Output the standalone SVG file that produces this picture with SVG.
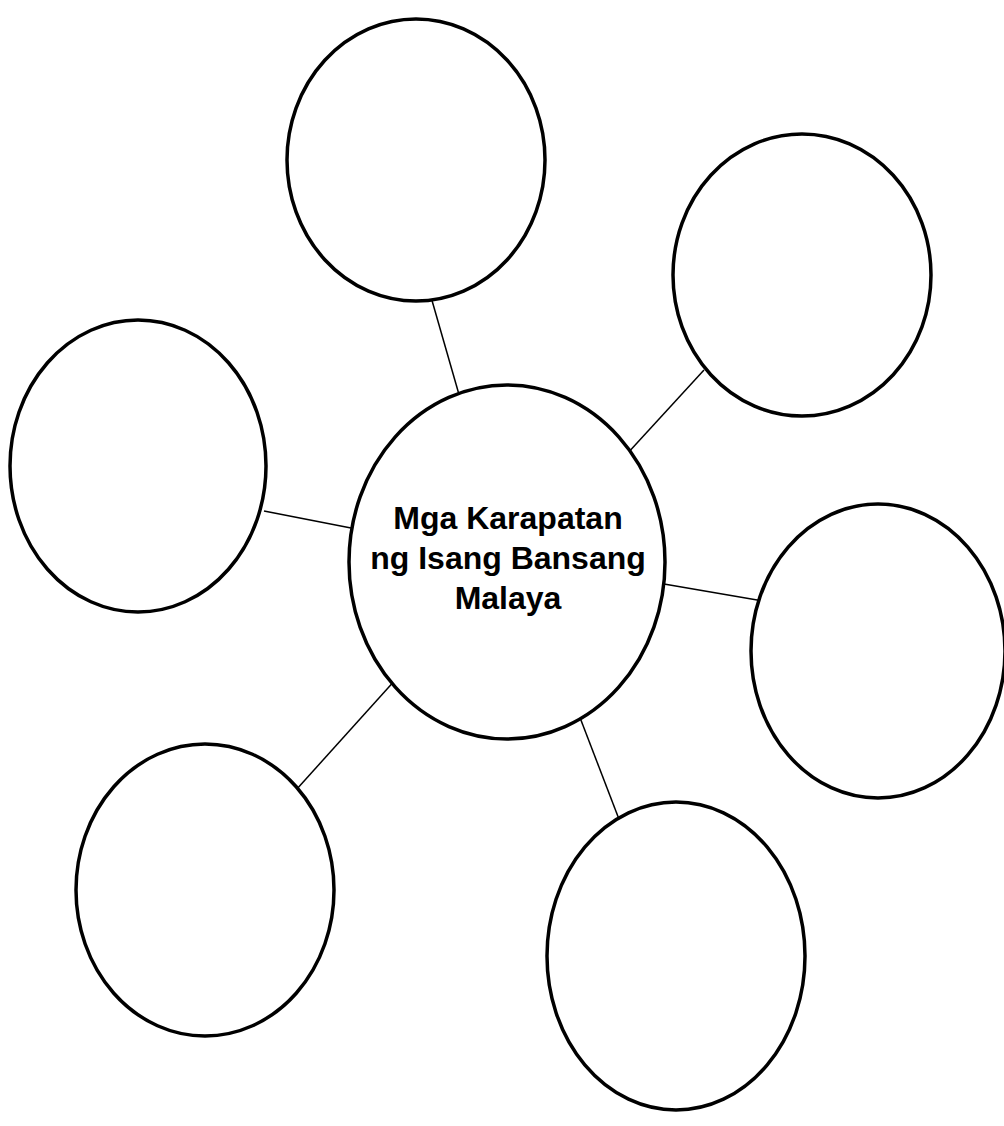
<svg xmlns="http://www.w3.org/2000/svg" width="1004" height="1126" viewBox="0 0 1004 1126">
<style>
.n{fill:#fff;stroke:#000;stroke-width:3.5}
.c line{stroke:#000;stroke-width:1.5}
.t{font-family:"Liberation Sans",Arial,sans-serif;font-weight:bold;font-size:32px;text-anchor:middle;fill:#000}
</style>
<rect width="1004" height="1126" fill="#fff"/>
<g id="connectors" class="c">
<line x1="431" y1="297" x2="460" y2="398"/>
<line x1="704" y1="370" x2="626" y2="455"/>
<line x1="264" y1="511" x2="351" y2="528"/>
<line x1="664" y1="584" x2="763" y2="601"/>
<line x1="397" y1="678" x2="296" y2="790"/>
<line x1="579" y1="715" x2="627" y2="840"/>
</g>
<g id="node-top"><ellipse class="n" cx="416" cy="160" rx="129" ry="141"/></g>
<g id="node-topright"><ellipse class="n" cx="802" cy="275" rx="129" ry="141"/></g>
<g id="node-left"><ellipse class="n" cx="138" cy="466" rx="128" ry="146"/></g>
<g id="node-right"><ellipse class="n" cx="878" cy="651" rx="127" ry="147"/></g>
<g id="node-bottomleft"><ellipse class="n" cx="205" cy="890" rx="129" ry="146"/></g>
<g id="node-bottomright"><ellipse class="n" cx="676" cy="956" rx="129" ry="154"/></g>
<g id="node-center">
<ellipse class="n" cx="507" cy="562" rx="158" ry="177"/>
<text class="t" x="508" y="529">Mga Karapatan</text>
<text class="t" x="508" y="569">ng Isang Bansang</text>
<text class="t" x="508" y="609">Malaya</text>
</g>
</svg>
